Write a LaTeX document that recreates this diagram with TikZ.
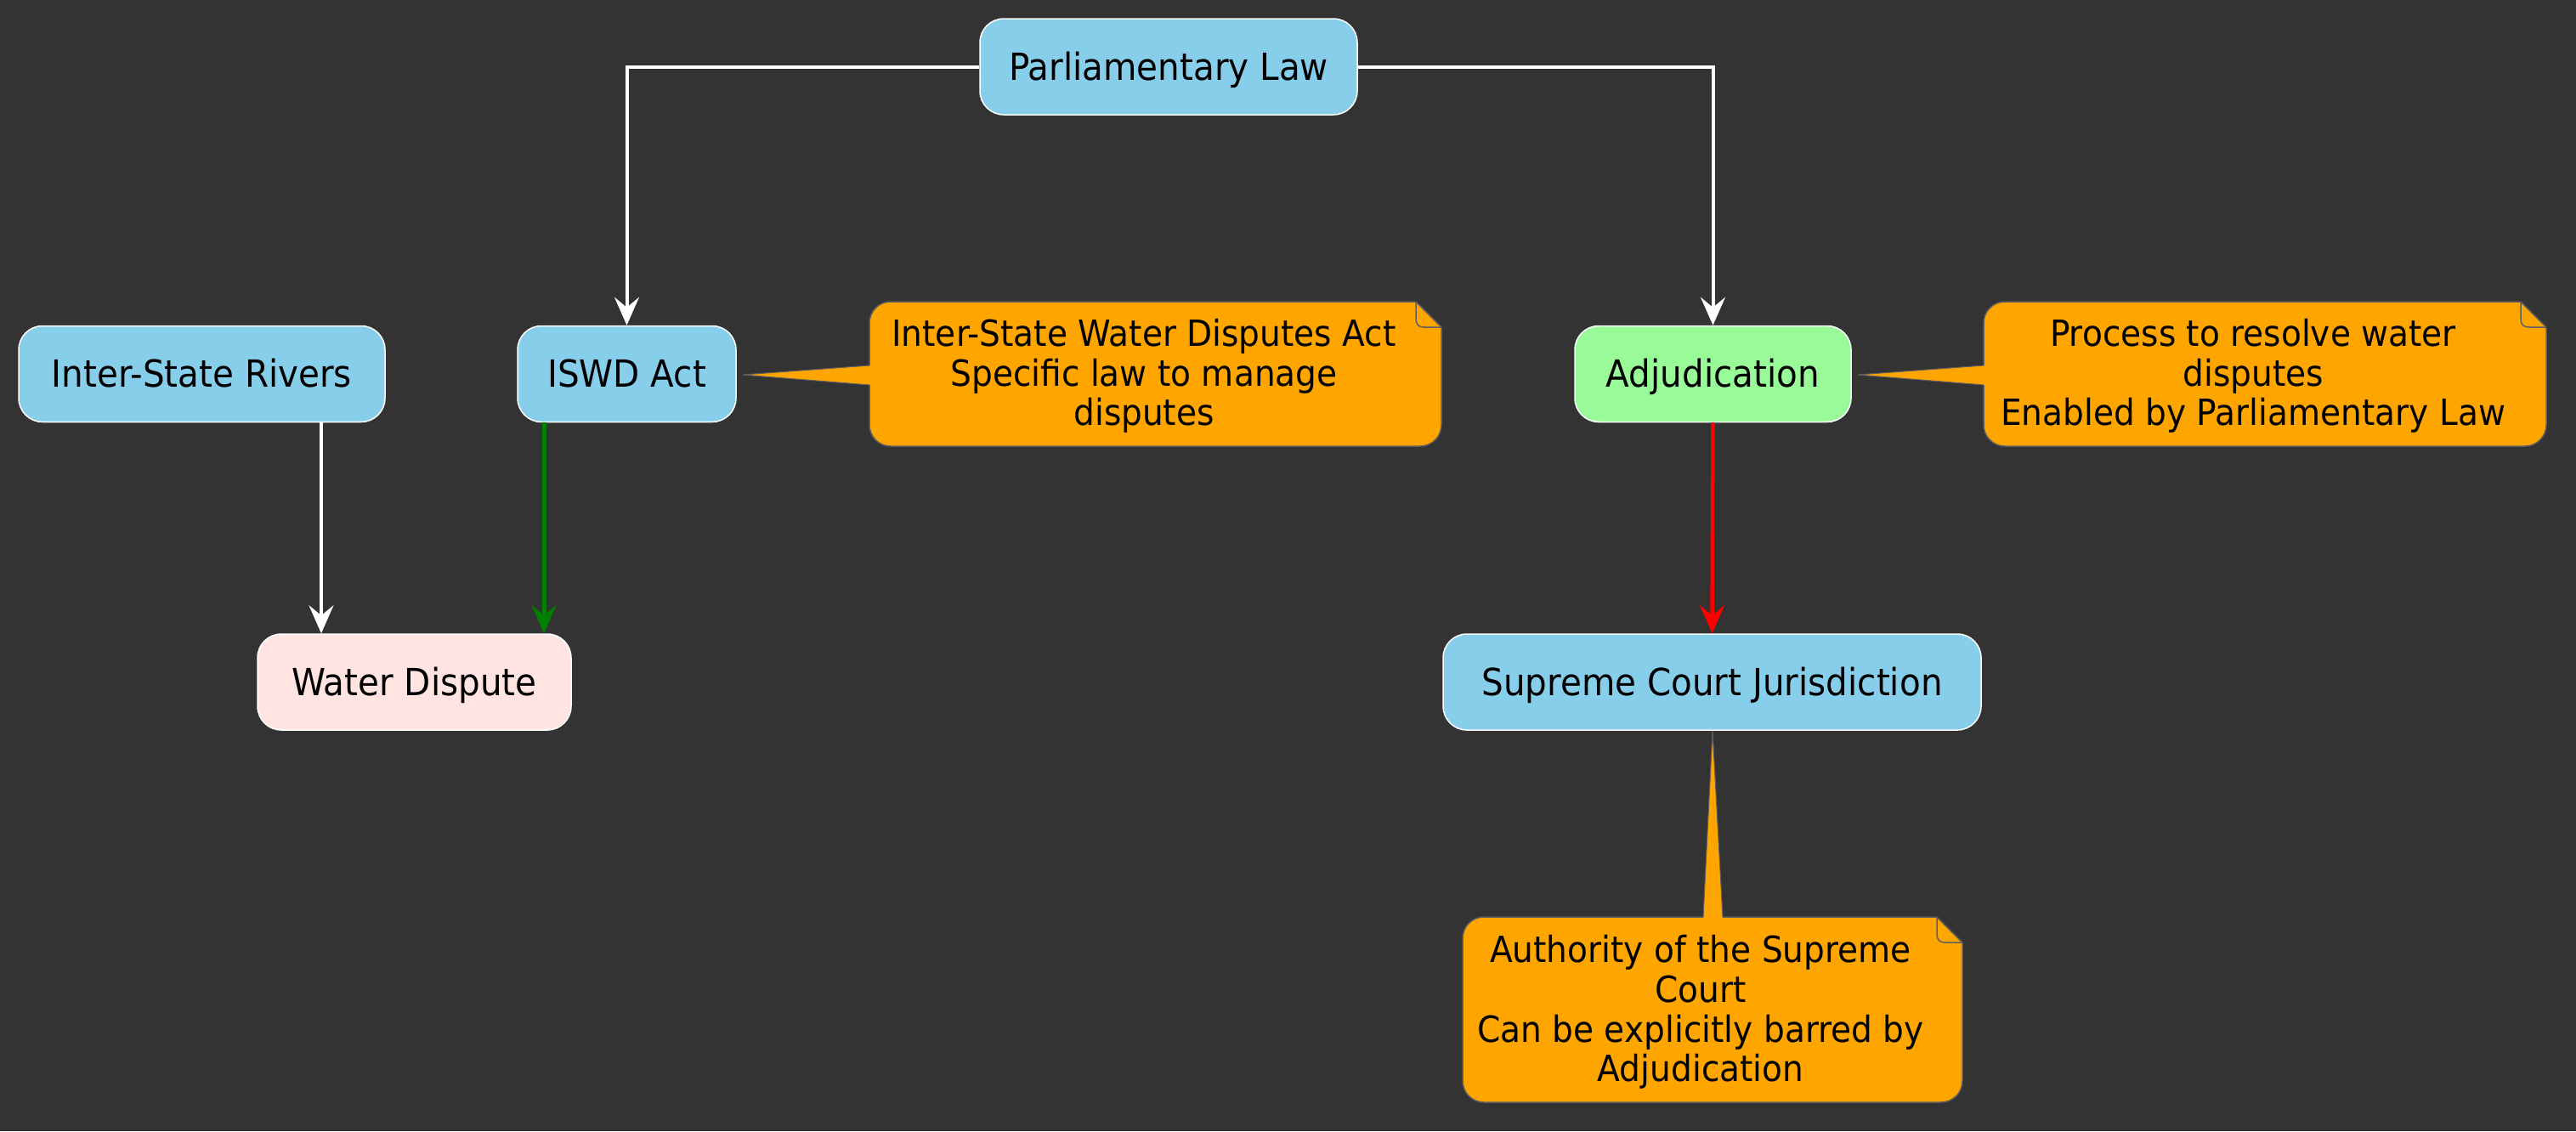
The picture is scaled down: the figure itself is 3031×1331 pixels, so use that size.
\documentclass[tikz,border=0pt]{standalone}
\usepackage{fontspec}
\setmainfont{DejaVu Sans}[FakeStretch=0.92]
\usetikzlibrary{arrows.meta}
\definecolor{bgc}{HTML}{333333}
\definecolor{skyc}{HTML}{87CEEB}
\definecolor{greenbox}{HTML}{98FB98}
\definecolor{rosec}{HTML}{FFE4E1}
\definecolor{notec}{HTML}{FFA500}
\definecolor{noteedge}{HTML}{5E5E5E}
\definecolor{greenarrow}{HTML}{008000}
\definecolor{redarrow}{HTML}{FF0000}
\tikzset{
  box/.style={draw=white, line width=1.5pt, rounded corners=28pt, inner sep=0pt,
    minimum height=113pt, text height=31pt, text depth=0pt, text=black,
    font=\fontsize{44}{50}\selectfont},
  conn/.style={line width=4pt, draw=white,
    -{Stealth[length=33pt, width=29pt, inset=12pt]}},
  notebody/.style={fill=notec, draw=noteedge, line width=1.5pt, rounded corners=25pt},
  noteline/.style={draw=noteedge, line width=1.5pt},
  notetext/.style={inner sep=0pt, align=center, text=black,
    font=\fontsize{42.5}{46.7}\selectfont}
}
\newcommand{\mynote}[4]{%
  \draw[notebody] (#1,#2) rectangle (#3,#4);
  \fill[bgc] ({#3-33},{#2-3}) -- ({#3+3},{#2-3}) -- ({#3+3},{#2+33}) -- cycle;
  \draw[noteline] ({#3-30},#2) -- (#3,{#2+30});
  \draw[noteline] ({#3-30},#2) -- ({#3-30},{#2+20}) .. controls ({#3-30},{#2+27}) and ({#3-27},{#2+30}) .. ({#3-20},{#2+30}) -- (#3,{#2+30});
}
\begin{document}
\begin{tikzpicture}[x=1pt, y=-1pt]
  \useasboundingbox (0,0) rectangle (3031,1331);
  \fill[bgc] (0,0) rectangle (3031,1331);

  % nodes
  \node[box, fill=skyc, minimum width=444pt] (parl) at (1375,78.5) {Parliamentary Law};
  \node[box, fill=skyc, minimum width=431pt] (rivers) at (237.5,440) {Inter-State Rivers};
  \node[box, fill=skyc, minimum width=257pt] (iswd) at (737.5,440) {ISWD Act};
  \node[box, fill=greenbox, minimum width=325pt] (adj) at (2015.5,440) {Adjudication};
  \node[box, fill=rosec, minimum width=369pt] (water) at (487.5,802.5) {Water Dispute};
  \node[box, fill=skyc, minimum width=633pt] (sc) at (2014.5,802.5) {Supreme Court Jurisdiction};

  % connectors
  \coordinate (rx) at (378,0);
  \coordinate (gx) at (640,0);
  \draw[conn] (parl.west) -| (iswd.north);
  \draw[conn] (parl.east) -| (adj.north);
  \draw[conn] (rivers.south -| rx) -- (water.north -| rx);
  \draw[conn, draw=greenarrow, fill=greenarrow, line width=5pt] (iswd.south -| gx) -- (water.north -| gx);
  \draw[conn, draw=redarrow, fill=redarrow, line width=4.5pt] (adj.south) -- (sc.north);

  % note 1
  \mynote{1023}{355}{1696}{525}
  \coordinate (p1) at (874,441);
  \fill[notec] (p1) -- (1026,430) -- (1026,453) -- cycle;
  \draw[noteline, line width=1pt] (1023,430) -- (p1) -- (1023,453);
  \node[notetext] (n1) at (1346,442.5) {Inter-State Water Disputes Act\\Specific law to manage\\disputes};

  % note 2
  \mynote{2334}{355}{2996}{525}
  \coordinate (p2) at (2186,441);
  \fill[notec] (p2) -- (2337,430) -- (2337,453) -- cycle;
  \draw[noteline, line width=1pt] (2334,430) -- (p2) -- (2334,453);
  \node[notetext] (n2) at (2651,442.5) {Process to resolve water\\disputes\\Enabled by Parliamentary Law};

  % note 3
  \mynote{1721}{1079}{2309}{1297}
  \coordinate (p3) at (2015,860);
  \fill[notec] (p3) -- (2004,1082) -- (2027,1082) -- cycle;
  \draw[noteline, line width=1pt] (2004,1079) -- (p3) -- (2027,1079);
  \node[notetext] (n3) at (2001,1191) {Authority of the Supreme\\Court\\Can be explicitly barred by\\Adjudication};
\end{tikzpicture}
\end{document}
